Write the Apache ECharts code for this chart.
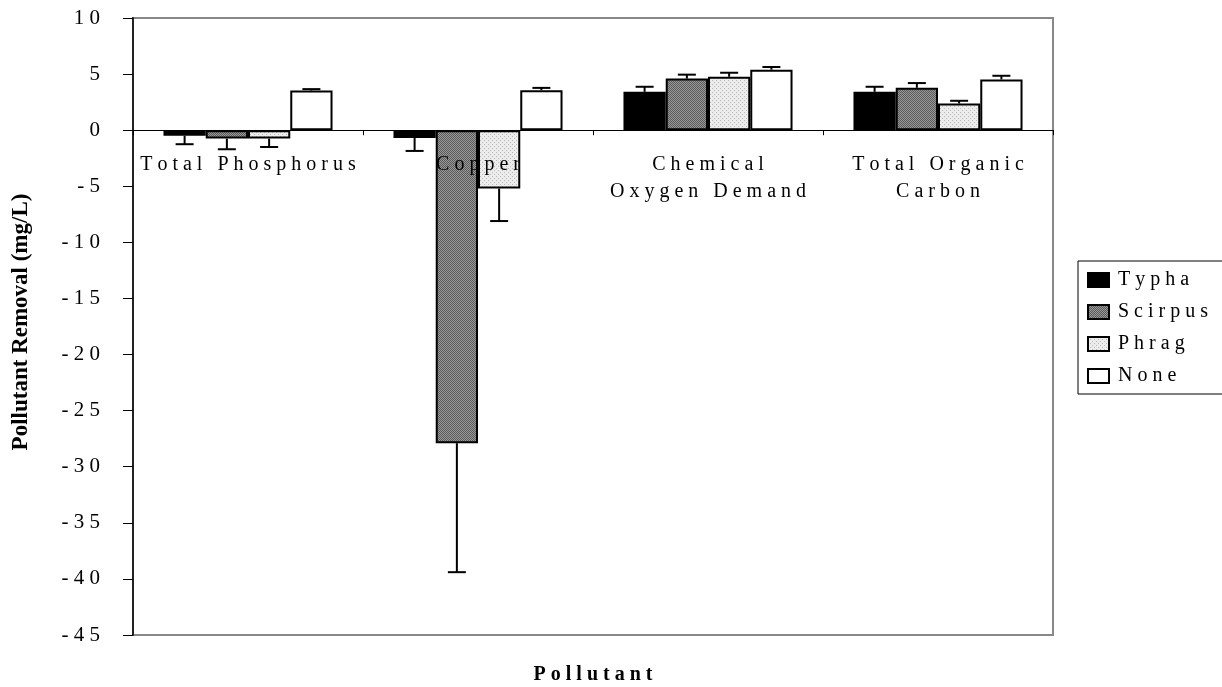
<!DOCTYPE html>
<html>
<head>
<meta charset="utf-8">
<script src="https://cdn.jsdelivr.net/npm/echarts@6/dist/echarts.min.js"></script>
<style>
  html, body { margin: 0; padding: 0; background: #fff; }
  #chart { width: 1222px; height: 687px; }
</style>
</head>
<body>
<div id="chart"></div>
<script>
// pollutant categories
const categories = ['Total Phosphorus', 'Copper', 'Chemical\nOxygen Demand', 'Total Organic\nCarbon'];
const seriesNames = ['Typha', 'Scirpus', 'Phrag', 'None'];

// mean removal (mg/L) per plant type
const typha   = [-0.5,  -0.7,  3.42, 3.42];
const scirpus = [-0.75, -27.9, 4.6,  3.78];
const phrag   = [-0.75, -5.2,  4.76, 2.38];
const none    = [3.54,  3.57,  5.39, 4.52];

// error bar length (drawn away from zero)
const typhaErr   = [0.75, 1.15, 0.45, 0.45];
const scirpusErr = [0.95, 11.5, 0.35, 0.42];
const phragErr   = [0.75, 2.9,  0.36, 0.24];
const noneErr    = [0.12, 0.2,  0.24, 0.33];

const values = [typha, scirpus, phrag, none];
const errors = [typhaErr, scirpusErr, phragErr, noneErr];

const FONT = 'Liberation Serif';
const CAT_GAP = 0.265;
const Y_MIN = -45;
const Y_MAX = 10;
const GRID_TOP = 18;
const GRID_BOTTOM = 52;
const PLOT_H = 687 - GRID_TOP - GRID_BOTTOM;

// spread letters like the old excel export does
function spaced (s) {
  return s.split('\n').map(line => line.split(' ').map(w => w.split('').join(' ')).join('   ')).join('\n');
}

// small dither patterns for the grey fills
function makePattern (size, bg, dot, dots) {
  const c = document.createElement('canvas');
  c.width = size; c.height = size;
  const ctx = c.getContext('2d');
  ctx.fillStyle = bg;
  ctx.fillRect(0, 0, size, size);
  ctx.fillStyle = dot;
  dots.forEach(p => ctx.fillRect(p[0], p[1], 1, 1));
  return { image: c, repeat: 'repeat' };
}
const scirpusFill = makePattern(2, '#999999', '#5a5a5a', [[0, 0], [1, 1]]);
const phragFill = makePattern(4, '#ececec', '#b8b8b8', [[0, 0], [2, 2]]);
const fills = ['#000000', scirpusFill, phragFill, '#ffffff'];

const chart = echarts.init(document.getElementById('chart'));

const barSeries = seriesNames.map((name, i) => ({
  name: name,
  type: 'bar',
  data: values[i],
  barGap: 0,
  barCategoryGap: (CAT_GAP * 100) + '%',
  itemStyle: {
    color: fills[i],
    borderColor: '#000',
    borderWidth: 2
  },
  z: 2
}));

// error bar data: [category, start, end, series index]
const errData = [];
values.forEach((vals, s) => {
  vals.forEach((v, c) => {
    const e = errors[s][c];
    errData.push([c, v, v < 0 ? v - e : v + e, s]);
  });
});

const errSeries = {
  type: 'custom',
  name: 'err',
  z: 3,
  silent: true,
  data: errData,
  encode: { x: 0, y: [1, 2] },
  renderItem: function (params, api) {
    const c = api.value(0);
    const s = api.value(3);
    const band = api.size([1, 0])[0];
    const barW = band * (1 - CAT_GAP) / 4;
    const p0 = api.coord([c, api.value(1)]);
    const p1 = api.coord([c, api.value(2)]);
    const x = p0[0] + (s - 1.5) * barW;
    const style = { stroke: '#000', lineWidth: 2 };
    return {
      type: 'group',
      children: [
        { type: 'line', shape: { x1: x, y1: p0[1], x2: x, y2: p1[1] }, style: style },
        { type: 'line', shape: { x1: x - 9, y1: p1[1], x2: x + 9, y2: p1[1] }, style: style }
      ]
    };
  }
};

const titleStyle = { fontFamily: FONT, fontWeight: 'bold', fill: '#000' };

// lift the category axis up to the zero line
const zeroOffset = -PLOT_H * (0 - Y_MIN) / (Y_MAX - Y_MIN);

const option = {
  animation: false,
  backgroundColor: '#fff',
  grid: {
    left: 133,
    top: GRID_TOP,
    right: 169,
    bottom: GRID_BOTTOM,
    show: true,
    borderColor: '#888',
    borderWidth: 2,
    outerBoundsMode: 'none'
  },
  legend: {
    data: seriesNames,
    orient: 'vertical',
    left: 1078,
    top: 261,
    icon: 'rect',
    itemWidth: 21,
    itemHeight: 14,
    itemGap: 12,
    padding: [9, 40, 8, 9],
    borderColor: '#000',
    borderWidth: 1,
    formatter: name => spaced(name),
    textStyle: {
      fontFamily: FONT,
      fontSize: 20,
      color: '#000',
      lineHeight: 19,
      padding: [0, 0, 0, 4]
    }
  },
  graphic: [
    {
      type: 'text',
      x: 593,
      y: 675,
      style: Object.assign({ text: spaced('Pollutant'), fontSize: 20, align: 'center', verticalAlign: 'middle' }, titleStyle)
    },
    {
      type: 'text',
      x: 21,
      y: 322,
      rotation: Math.PI / 2,
      style: Object.assign({ text: 'Pollutant Removal (mg/L)', fontSize: 23, align: 'center', verticalAlign: 'middle' }, titleStyle)
    }
  ],
  xAxis: {
    type: 'category',
    data: categories,
    position: 'bottom',
    offset: zeroOffset,
    z: 10,
    axisLine: { onZero: false, lineStyle: { color: '#000', width: 1 } },
    axisTick: { show: true, length: 5, lineStyle: { color: '#000' } },
    axisLabel: {
      interval: 0,
      margin: 21,
      fontFamily: FONT,
      fontSize: 20,
      lineHeight: 27,
      color: '#000',
      formatter: v => spaced(v)
    },
    splitLine: { show: false }
  },
  yAxis: {
    type: 'value',
    min: Y_MIN,
    max: Y_MAX,
    interval: 5,
    axisLine: { show: true, lineStyle: { color: '#222', width: 2 } },
    axisTick: { show: true, length: 10, lineStyle: { color: '#000' } },
    axisLabel: {
      margin: 33,
      fontFamily: FONT,
      fontSize: 21,
      color: '#000',
      formatter: v => String(v).split('').join(' ')
    },
    splitLine: { show: false }
  },
  series: barSeries.concat([errSeries])
};

chart.setOption(option);
</script>
</body>
</html>
